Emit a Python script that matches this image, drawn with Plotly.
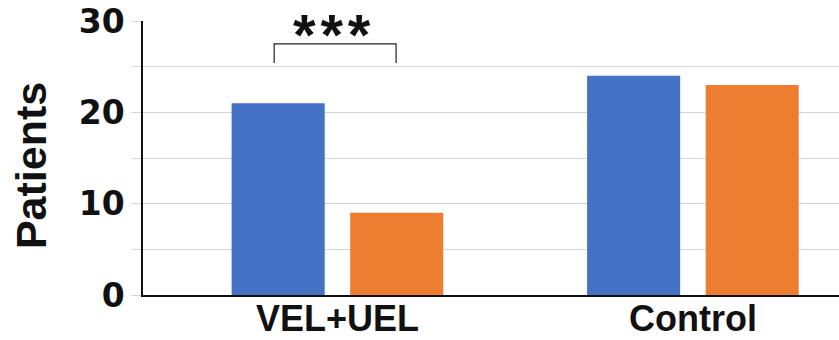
import plotly.graph_objects as go

categories = ["VEL+UEL", "Control"]
series_a = [21, 24]
series_b = [9, 23]
y_ticks = [0, 10, 20, 30]
significance = "*\u200a*\u200a*"

BLUE = "#4472C4"
ORANGE = "#ED7D31"

fig = go.Figure()
fig.add_trace(go.Bar(x=categories, y=series_a, marker=dict(color=BLUE, line=dict(width=0)), name="A"))
fig.add_trace(go.Bar(x=categories, y=series_b, marker=dict(color=ORANGE, line=dict(width=0)), name="B"))

# significance bracket over first group (bar centres at -1/6 and +1/6 of category)
bx0, bx1 = -0.178, 0.165
by_low, by_high = 25.4, 27.5
fig.add_shape(type="path",
              path=f"M {bx0},{by_low} L {bx0},{by_high} L {bx1},{by_high} L {bx1},{by_low}",
              xref="x", yref="y", line=dict(color="#222222", width=1.2))
fig.add_annotation(x=-0.015, y=1.075, xref="x", yref="paper", text=significance,
                   showarrow=False, yanchor="top",
                   font=dict(family="Liberation Sans", size=58, color="#111111", weight="bold"))

fig.add_annotation(x=-0.161, y=0.474, xref="paper", yref="paper", text="Patients",
                   textangle=-90, showarrow=False, xanchor="center", yanchor="middle",
                   font=dict(family="Liberation Sans", size=43, color="#111111", weight="bold"))

fig.update_layout(
    width=839, height=340,
    margin=dict(l=143, r=0, t=21, b=45, autoexpand=False),
    paper_bgcolor="white", plot_bgcolor="white",
    barmode="group", bargap=0.333, bargroupgap=0.215,
    showlegend=False,
    xaxis=dict(range=[-0.547, 1.411], showgrid=False, showline=True, linecolor="#111111",
               linewidth=2, ticks="", automargin=False,
               tickfont=dict(family="Liberation Sans", size=36, color="#111111", weight="bold"),
               ticklabelstandoff=-9),
    yaxis=dict(range=[0, 30], tickvals=y_ticks, showgrid=True, gridcolor="#d6d6d6", gridwidth=1.3,
               showline=True, linecolor="#111111", linewidth=1.5, automargin=False,
               ticks="outside", ticklen=10, tickcolor="#d6d6d6", tickwidth=1.3,
               minor=dict(dtick=5, showgrid=True, gridcolor="#d6d6d6", gridwidth=1.3,
                          ticks="outside", ticklen=10, tickcolor="#d6d6d6", tickwidth=1.3),
               tickfont=dict(family="DejaVu Sans", size=33, color="#111111", weight="bold"),
               zeroline=False),
)

fig.write_html("out.html")
